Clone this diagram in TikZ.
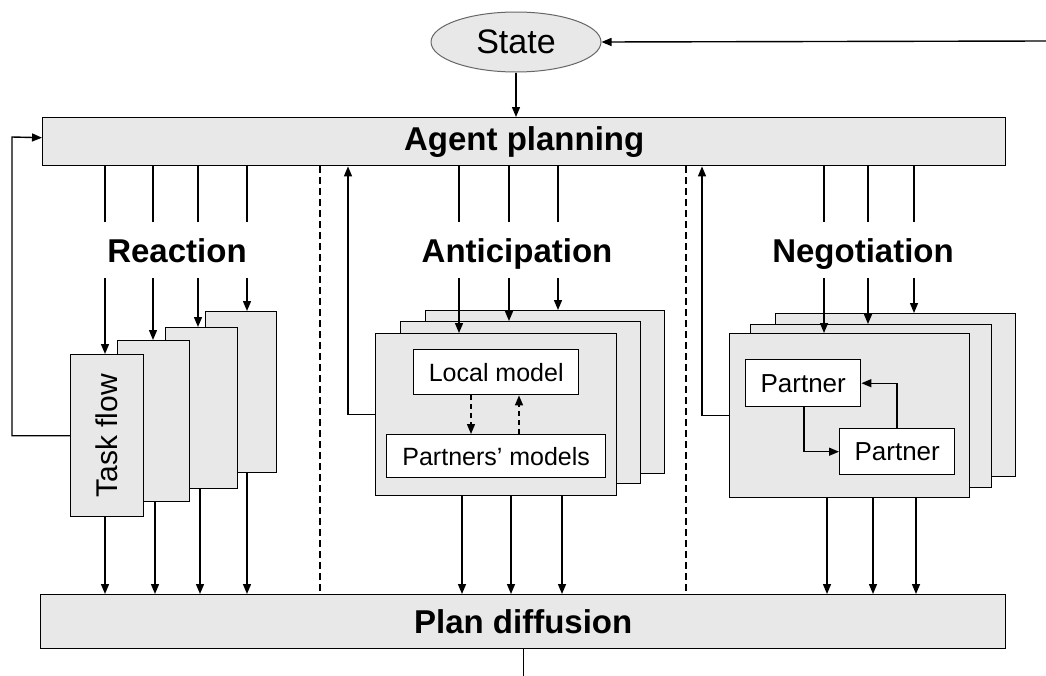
\documentclass[tikz,border=0pt]{standalone}
\usepackage{fontspec}
\setmainfont{Liberation Sans}
\usetikzlibrary{arrows.meta,shapes.geometric}
\definecolor{boxgray}{HTML}{E8E8E8}
\begin{document}
\begin{tikzpicture}[x=1pt,y=-1pt,line width=1.4pt,
  >={Triangle[length=10pt,width=8pt]},
  gbox/.style={draw,fill=boxgray,inner sep=0pt,anchor=north west},
  wbox/.style={draw,fill=white,inner sep=0pt,anchor=north west},
  title/.style={font=\fontsize{33}{38}\selectfont\bfseries,inner sep=0pt,anchor=base},
  bigbar/.style={gbox,font=\fontsize{33}{38}\selectfont\bfseries},
  small/.style={font=\fontsize{25}{30}\selectfont},
  sep/.style={dashed,dash pattern=on 7pt off 4pt,line width=1.1pt}]
\useasboundingbox (0,0) rectangle (1046,675);

% state and bars
\node[ellipse,draw=black!60,line width=1pt,fill=boxgray,minimum width=170pt,minimum height=60pt,inner sep=0pt,
  font=\fontsize{34}{38}\selectfont] (st) at (516,42) {State};
\node[bigbar,minimum width=963pt,minimum height=48pt] (ap) at (42,117) {Agent planning};
\node[bigbar,minimum width=965pt,minimum height=54pt] (pd) at (40,594) {Plan diffusion};
\coordinate (in) at (1046,41);
\draw[->] (in) -- (st.east);
\draw[->] (st.south) -- (st.south |- ap.north);
\draw (pd.south) -- ++(0,27);

% separators
\draw[sep] (320,0 |- ap.south) -- (320,0 |- pd.north);
\draw[sep] (686,0 |- ap.south) -- (686,0 |- pd.north);

% ---------- Reaction ----------
\node[title] (lr) at (177,262) {Reaction};
\node[gbox,minimum width=71pt,minimum height=161pt] (r4) at (205,311) {};
\node[gbox,minimum width=72pt,minimum height=161pt] (r3) at (165,327) {};
\node[gbox,minimum width=72pt,minimum height=161pt] (r2) at (117,340) {};
\node[gbox,minimum width=73pt,minimum height=162pt] (tf) at (70,354)
  {\rotatebox{90}{\fontsize{30}{34}\selectfont Task flow}};
\foreach \x/\b in {105/tf,153/r2,198/r3,247/r4}{
  \draw (\x,0 |- ap.south) -- (\x,222);
  \draw[->] (\x,278) -- (\x,0 |- \b.north);
}
\foreach \x/\b in {105/tf,155/r2,200/r3,247/r4}{
  \draw[->] (\x,0 |- \b.south) -- (\x,0 |- pd.north);
}
\draw[->] (tf.west) -- ++(-58,0) coordinate (fa) -- (fa |- 0,137) -- ([yshift=4pt]ap.west);

% ---------- Anticipation ----------
\node[title] (la) at (517,262) {Anticipation};
\node[gbox,minimum width=239pt,minimum height=163pt] (ab) at (425,310) {};
\node[gbox,minimum width=240pt,minimum height=162pt] (am) at (400,321) {};
\node[gbox,minimum width=241pt,minimum height=162pt] (af) at (375,333) {};
\node[wbox,small,minimum width=165pt,minimum height=45pt] (lm) at (413,349) {Local model};
\node[wbox,small,minimum width=219pt,minimum height=43pt] (pm) at (386,434) {Partners’ models};
\draw[->,dashed,dash pattern=on 5pt off 4pt] (471,0 |- lm.south) -- (471,0 |- pm.north);
\draw[->,dashed,dash pattern=on 5pt off 4pt] (519,0 |- pm.north) -- (519,0 |- lm.south);
\foreach \x/\b in {459/af,509/am,558/ab}{
  \draw (\x,0 |- ap.south) -- (\x,222);
  \draw[->] (\x,278) -- (\x,0 |- \b.north);
}
\foreach \x in {462,511,562}{
  \draw[->] (\x,0 |- af.south) -- (\x,0 |- pd.north);
}
\draw[->] (af.west) -- ++(-27,0) coordinate (fb) -- (fb |- ap.south);

% ---------- Negotiation ----------
\node[title] (ln) at (863,262) {Negotiation};
\node[gbox,minimum width=240pt,minimum height=163pt] (nb) at (775,313) {};
\node[gbox,minimum width=241pt,minimum height=163pt] (nm) at (750,324) {};
\node[gbox,minimum width=240pt,minimum height=164pt] (nf) at (729,333) {};
\node[wbox,font=\fontsize{26}{30}\selectfont,minimum width=115pt,minimum height=47pt] (p1) at (745,359) {Partner};
\node[wbox,font=\fontsize{26}{30}\selectfont,minimum width=115pt,minimum height=46pt] (p2) at (839,428) {Partner};
\draw[->] (804,0 |- p1.south) |- (p2.west);
\draw[->] (897,0 |- p2.north) |- (p1.east);
\foreach \x/\b in {824/nf,868/nm,914/nb}{
  \draw (\x,0 |- ap.south) -- (\x,222);
  \draw[->] (\x,278) -- (\x,0 |- \b.north);
}
\foreach \x in {827,873,916}{
  \draw[->] (\x,0 |- nf.south) -- (\x,0 |- pd.north);
}
\draw[->] (nf.west) -- ++(-27,0) coordinate (fc) -- (fc |- ap.south);
\end{tikzpicture}
\end{document}
